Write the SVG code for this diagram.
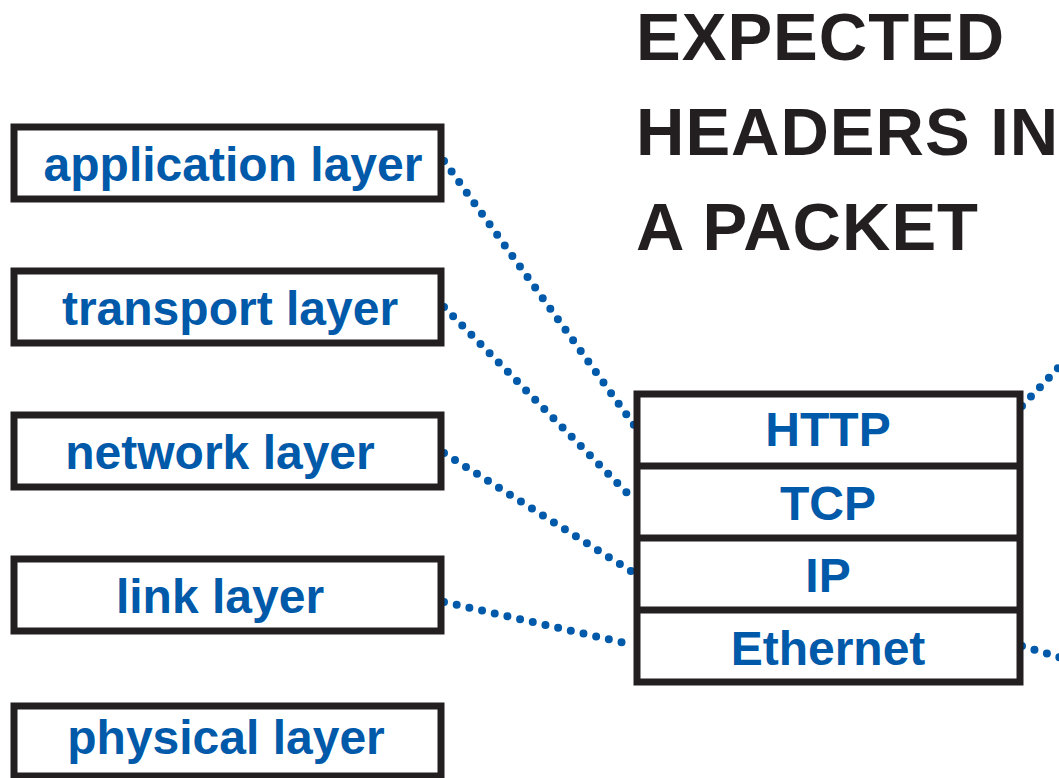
<svg xmlns="http://www.w3.org/2000/svg" width="1059" height="778" viewBox="0 0 1059 778">
<style>
.box{fill:#fff;stroke:#231f20;stroke-width:7}
.sep{stroke:#231f20;stroke-width:7}
.lbl{font-family:"Liberation Sans",Arial,sans-serif;font-weight:bold;font-size:48px;fill:#0059a9;text-anchor:middle}
.ttl{font-family:"Liberation Sans",Arial,sans-serif;font-weight:bold;font-size:67px;fill:#231f20;letter-spacing:1px}
.dot{fill:none;stroke:#0059a9;stroke-width:8;stroke-linecap:round;stroke-dasharray:0 13}
</style>
<rect width="1059" height="778" fill="#fff"/>
<g id="title">
<text class="ttl" x="636" y="60">EXPECTED</text>
<text class="ttl" x="636" y="155">HEADERS IN</text>
<text class="ttl" x="636" y="250">A PACKET</text>
</g>
<g id="connectors">
<path class="dot" d="M444,161 L634,425"/>
<path class="dot" d="M444,307 L634,500"/>
<path class="dot" d="M444,453 L634,573"/>
<path class="dot" d="M444,602 L634,645"/>
<path class="dot" d="M1022,406 L1062,364"/>
<path class="dot" d="M1022,646 L1062,658"/>
</g>
<g id="application-layer">
<rect class="box" x="14" y="127" width="427" height="72"/>
<text class="lbl" x="233" y="181">application layer</text>
</g>
<g id="transport-layer">
<rect class="box" x="14" y="271" width="427" height="72"/>
<text class="lbl" x="230" y="325">transport layer</text>
</g>
<g id="network-layer">
<rect class="box" x="14" y="415" width="427" height="72"/>
<text class="lbl" x="220" y="469">network layer</text>
</g>
<g id="link-layer">
<rect class="box" x="14" y="559" width="427" height="72"/>
<text class="lbl" x="220" y="613">link layer</text>
</g>
<g id="physical-layer">
<rect class="box" x="14" y="706" width="427" height="70"/>
<text class="lbl" x="226" y="754">physical layer</text>
</g>
<g id="packet">
<rect class="box" x="637" y="394" width="383" height="288"/>
<line class="sep" x1="637" y1="466" x2="1020" y2="466"/>
<line class="sep" x1="637" y1="538" x2="1020" y2="538"/>
<line class="sep" x1="637" y1="610" x2="1020" y2="610"/>
<text class="lbl" x="828" y="446">HTTP</text>
<text class="lbl" x="828" y="520">TCP</text>
<text class="lbl" x="828" y="592">IP</text>
<text class="lbl" x="828" y="665">Ethernet</text>
</g>
</svg>
